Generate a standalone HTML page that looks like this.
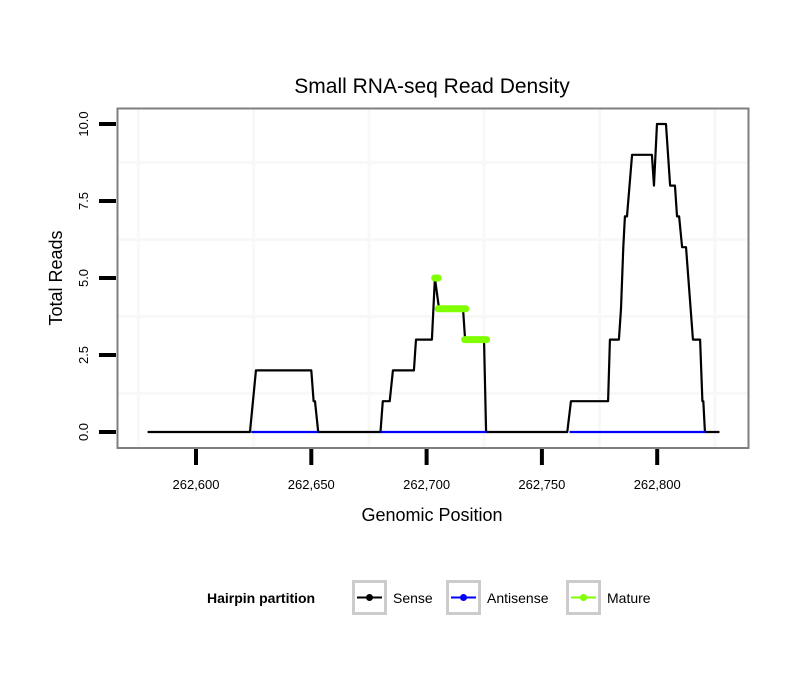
<!DOCTYPE html>
<html><head><meta charset="utf-8"><style>
body{margin:0;background:#fff;font-family:"Liberation Sans",sans-serif}
</style></head><body>
<svg id="chart" width="810" height="690" xmlns="http://www.w3.org/2000/svg" font-family="Liberation Sans, sans-serif">
<rect width="810" height="690" fill="#fff"/>
<g id="grid"></g>
<g id="series"></g>
<rect x="117.5" y="108.5" width="631" height="339.5" fill="none" stroke="#7f7f7f" stroke-width="2"/>
<g id="axes"></g>
<text x="432" y="93" font-size="21" text-anchor="middle">Small RNA-seq Read Density</text>
<text x="432" y="521" font-size="18" text-anchor="middle">Genomic Position</text>
<text transform="translate(62,278) rotate(-90)" font-size="18" text-anchor="middle">Total Reads</text>
<g>
<text x="207" y="603" font-size="14" font-weight="bold">Hairpin partition</text>
<g>
<rect x="353.5" y="581.5" width="32" height="32" fill="#fff" stroke="#cccccc" stroke-width="3"/>
<line x1="357" y1="597.5" x2="382" y2="597.5" stroke="#000" stroke-width="2"/><circle cx="369.5" cy="597.5" r="3.5" fill="#000"/>
<text x="393" y="603" font-size="14">Sense</text></g>
<g>
<rect x="447.5" y="581.5" width="32" height="32" fill="#fff" stroke="#cccccc" stroke-width="3"/>
<line x1="451" y1="597.5" x2="476" y2="597.5" stroke="#0000ff" stroke-width="2"/><circle cx="463.5" cy="597.5" r="3.5" fill="#0000ff"/>
<text x="487" y="603" font-size="14">Antisense</text></g>
<g>
<rect x="567.5" y="581.5" width="32" height="32" fill="#fff" stroke="#cccccc" stroke-width="3"/>
<line x1="571" y1="597.5" x2="596" y2="597.5" stroke="#7fff00" stroke-width="2"/><circle cx="583.5" cy="597.5" r="3.5" fill="#7fff00"/>
<text x="607" y="603" font-size="14">Mature</text></g>
</g>
</svg>
<script>
const xTicks=[262600,262650,262700,262750,262800];
const xTickLabels=["262,600","262,650","262,700","262,750","262,800"];
const yTicks=[0,2.5,5,7.5,10];
const yTickLabels=["0.0","2.5","5.0","7.5","10.0"];
const sensePos=[262579,262623.4,262626,262650,262651,262651.6,262653,262680,262681,262684,262685.4,262694.5,262695.4,262702.3,262703.6,262705.4,262715.8,262716.7,262724.9,262725.8,262761,262762.6,262778.7,262779.5,262783.4,262784.3,262785.3,262786.0,262786.9,262789.1,262797.7,262798.6,262799.9,262803.8,262805.6,262807.7,262808.6,262809.5,262810.8,262812.5,262815.5,262818.6,262819.6,262820,262820.7,262827];
const senseVal=[0,0,2,2,1,1,0,0,1,1,2,2,3,3,5,4,4,3,3,0,0,1,1,3,3,4,6,7,7,9,9,8,10,10,8,8,7,7,6,6,3,3,1,1,0,0];
const antiStart=[262624,262680,262762];
const antiEnd=[262653,262726,262821];
const antiVal=[0,0,0];
const matureStart=[262703.5,262705,262716.5];
const matureEnd=[262705,262717,262726];
const matureVal=[5,4,3];

const NS="http://www.w3.org/2000/svg";
const X=v=>196+(v-262600)*2.306;
const Y=v=>432-v*30.8;
function mk(tag,attrs,parent){const e=document.createElementNS(NS,tag);for(const k in attrs)e.setAttribute(k,attrs[k]);parent.appendChild(e);return e;}
const grid=document.getElementById('grid'),axes=document.getElementById('axes'),series=document.getElementById('series');
for(let v=262575;v<=262825;v+=50){const l=mk('line',{x1:X(v),x2:X(v),y1:109,y2:447,stroke:'#f8f8f8','stroke-width':3},grid);

}
for(let v=1.25;v<=10;v+=2.5){const l=mk('line',{x1:118,x2:748,y1:Y(v),y2:Y(v),stroke:'#f8f8f8','stroke-width':3},grid);

}
xTicks.forEach((t,i)=>{const l=mk('line',{x1:X(t),x2:X(t),y1:449,y2:465,stroke:'#000','stroke-width':4},axes);


const tx=mk('text',{x:X(t),y:489,'font-size':13,'text-anchor':'middle'},axes);tx.textContent=xTickLabels[i];

});
yTicks.forEach((t,i)=>{const l=mk('line',{x1:99,x2:116,y1:Y(t),y2:Y(t),stroke:'#000','stroke-width':4},axes);


const tx=mk('text',{transform:`translate(88,${Y(t)}) rotate(-90)`,'font-size':13,'text-anchor':'middle'},axes);tx.textContent=yTickLabels[i];

});
const sp=mk('polyline',{points:sensePos.map((p,i)=>X(p)+','+Y(senseVal[i])).join(' '),fill:'none',stroke:'#000','stroke-width':2.2,'stroke-linejoin':'round'},series);


antiStart.forEach((s,i)=>{const l=mk('line',{x1:X(s),x2:X(antiEnd[i]),y1:Y(antiVal[i]),y2:Y(antiVal[i]),stroke:'#0000ff','stroke-width':2.2},series);

});
matureStart.forEach((s,i)=>{const l=mk('line',{x1:X(s),x2:X(matureEnd[i]),y1:Y(matureVal[i]),y2:Y(matureVal[i]),stroke:'#7fff00','stroke-width':7,'stroke-linecap':'round'},series);

});
</script>
</body></html>
